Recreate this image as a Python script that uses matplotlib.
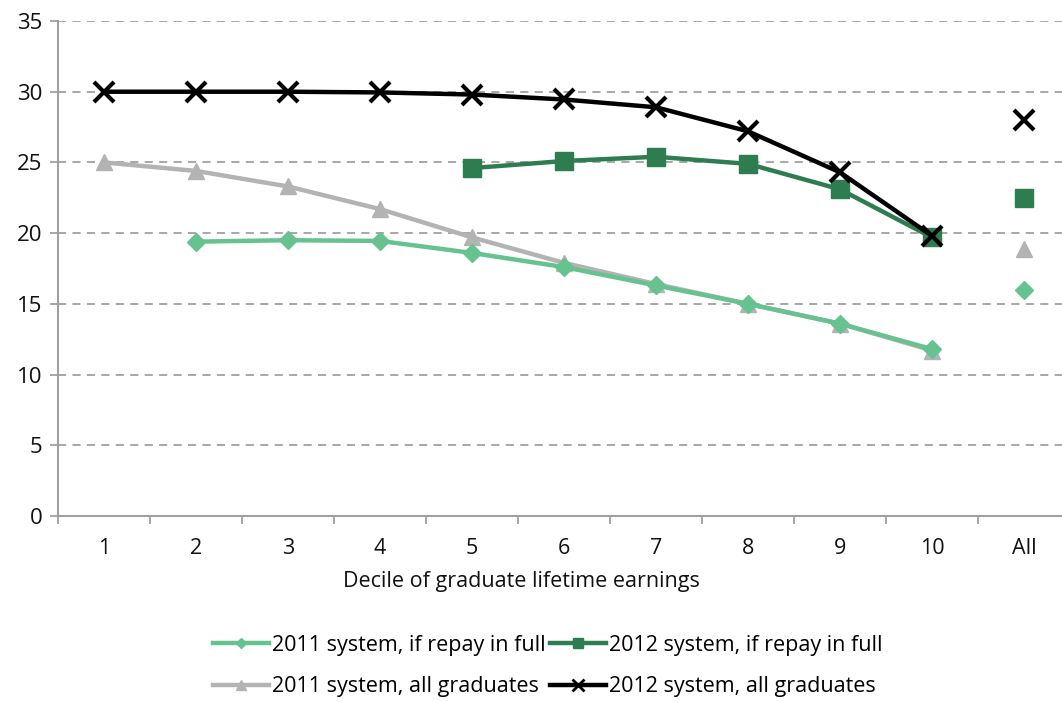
import matplotlib
matplotlib.use("Agg")
import matplotlib.pyplot as plt
import numpy as np

categories = ["1", "2", "3", "4", "5", "6", "7", "8", "9", "10", "All"]
deciles = [1, 2, 3, 4, 5, 6, 7, 8, 9, 10]

s2011_full = [None, 19.4, 19.5, 19.45, 18.6, 17.6, 16.3, 15.0, 13.6, 11.8]
s2011_full_all = 16.0
s2012_full = [None, None, None, None, 24.6, 25.1, 25.4, 24.9, 23.1, 19.7]
s2012_full_all = 22.5
s2011_grads = [25.0, 24.4, 23.3, 21.7, 19.7, 17.9, 16.4, 15.0, 13.6, 11.7]
s2011_grads_all = 18.9
s2012_grads = [30.0, 30.0, 30.0, 29.95, 29.8, 29.45, 28.9, 27.2, 24.3, 19.8]
s2012_grads_all = 28.0

yticks = [0, 5, 10, 15, 20, 25, 30, 35]
xlabel = "Decile of graduate lifetime earnings"

plt.rcParams['font.family'] = ['Open Sans', 'DejaVu Sans']
FS = 15.5

W, H = 1062, 702
fig = plt.figure(figsize=(W/100, H/100), dpi=100)
left, right, top, bottom = 58, 1070, 21, 516
ax = fig.add_axes([left/W, 1-bottom/H, (right-left)/W, (bottom-top)/H])

def arr(v):
    return np.array([np.nan if x is None else x for x in v], dtype=float)

xs = np.arange(len(deciles))
xall = len(deciles)

series = {
    "2011 system, if repay in full": (s2011_full, s2011_full_all, "#66c28f", "D", 9, 3),
    "2012 system, if repay in full": (s2012_full, s2012_full_all, "#2e7d50", "s", 13, 4),
    "2011 system, all graduates": (s2011_grads, s2011_grads_all, "#b3b3b3", "^", 12, 2),
    "2012 system, all graduates": (s2012_grads, s2012_grads_all, "#000000", "x", 14, 5),
}
for lab, (vals, allv, col, mk, ms, z) in series.items():
    mew = 3 if mk == "x" else 1
    ax.plot(xs, arr(vals), color=col, lw=3.2, marker=mk, ms=ms, mew=mew,
            mec=col, mfc=col, zorder=z)
    ax.plot([xall], [allv], linestyle="none", color=col, marker=mk, ms=ms, mew=mew,
            mec=col, mfc=col, zorder=z)

ax.set_xlim(-0.5, len(categories) - 0.5)
ax.set_ylim(0, 35)
ax.set_yticks(yticks)
ax.set_xticks(np.arange(len(categories)))
ax.set_xticklabels(categories)
ax.set_xticks(np.arange(len(categories) + 1) - 0.5, minor=True)
ax.tick_params(axis="x", which="major", length=0, labelsize=FS, pad=16, colors="#111111")
ax.tick_params(axis="x", which="minor", length=6, width=1.3, color="#a0a0a0", direction="out")
ax.tick_params(axis="y", which="major", length=6, width=1.3, color="#a0a0a0", labelsize=FS + 0.5, pad=5,
               labelcolor="#111111")
ax.grid(axis="y", color="#a0a0a0", linestyle=(0, (4.5, 3.5)), lw=1.3)
ax.set_axisbelow(True)
for s in ["top", "right"]:
    ax.spines[s].set_visible(False)
for s in ["left", "bottom"]:
    ax.spines[s].set_color("#a0a0a0")
    ax.spines[s].set_linewidth(1.5)
ax.set_xlabel(xlabel, fontsize=FS, color="#111111")
ax.xaxis.set_label_coords((521 - left) / (right - left), -(582 - bottom) / (bottom - top))
ax.xaxis.label.set_va("center")

order = ["2011 system, if repay in full", "2011 system, all graduates",
         "2012 system, if repay in full", "2012 system, all graduates"]
leg_handles = []
for lab in order:
    vals, allv, col, mk, ms, z = series[lab]
    mew = 2 if mk == "x" else 1
    lh, = ax.plot([], [], color=col, lw=3.2, marker=mk, ms=ms*0.6, mew=mew, mec=col, mfc=col, label=lab)
    leg_handles.append(lh)

fig.legend(handles=leg_handles, loc="center", bbox_to_anchor=(548/W, 1-666/H), ncol=2,
           frameon=False, fontsize=FS, handlelength=2.6, handletextpad=0.15,
           columnspacing=0.2, labelspacing=0.95, borderpad=0)

fig.savefig("out.png", dpi=100)
